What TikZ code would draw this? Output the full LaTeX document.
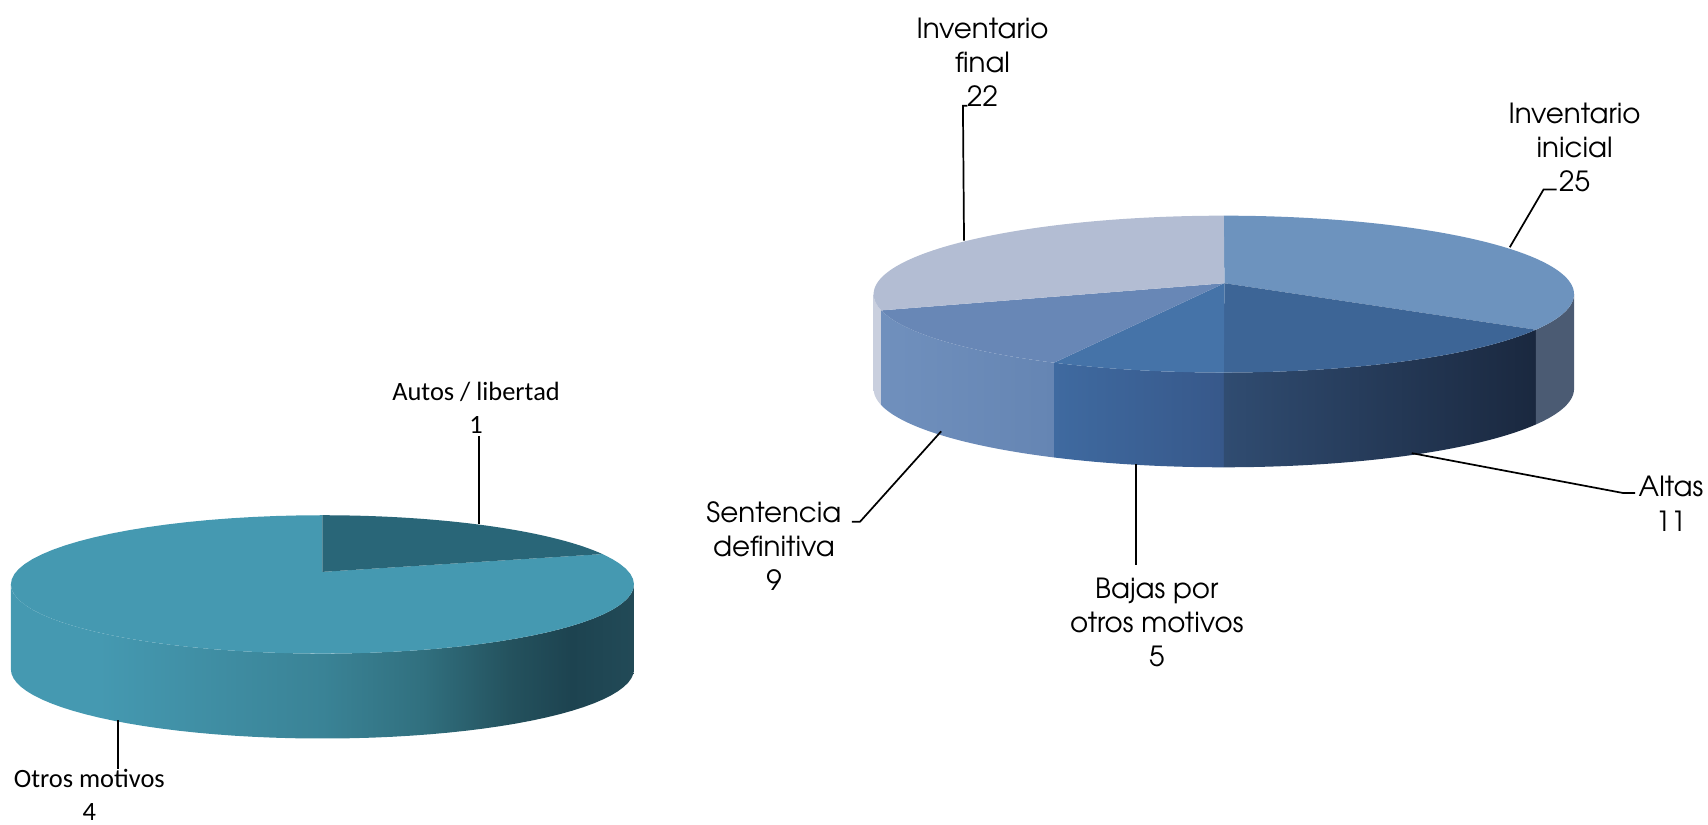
\documentclass[tikz,border=0pt]{standalone}
\usepackage{fontspec}
\newfontfamily\cgfont{TeX Gyre Adventor}
\newfontfamily\calfont{Carlito}
\definecolor{tl1}{HTML}{4599B1}
\definecolor{tl2}{HTML}{3A8396}
\definecolor{tl3}{HTML}{31707F}
\definecolor{tl4}{HTML}{24525E}
\definecolor{tl5}{HTML}{1D4350}
\definecolor{tl6}{HTML}{224A57}
\definecolor{tlwedge}{HTML}{296678}
\definecolor{rIniT}{HTML}{6D93BE}
\definecolor{rAltT}{HTML}{3D6596}
\definecolor{rBajT}{HTML}{4573A8}
\definecolor{rSenT}{HTML}{6887B6}
\definecolor{rFinT}{HTML}{B3BDD3}
\definecolor{rIniS}{HTML}{4B5B73}
\definecolor{rAltSa}{HTML}{304C71}
\definecolor{rAltSb}{HTML}{1A283F}
\definecolor{rBajSa}{HTML}{3F6AA0}
\definecolor{rBajSb}{HTML}{37588A}
\definecolor{rSenSa}{HTML}{7090BD}
\definecolor{rSenSb}{HTML}{6585B3}
\definecolor{rFinS}{HTML}{C9CFDE}
\pgfdeclarehorizontalshading{lside}{100bp}{color(0bp)=(tl1); color(32bp)=(tl1); color(50bp)=(tl2); color(58bp)=(tl3); color(65bp)=(tl4); color(70bp)=(tl5); color(75bp)=(tl6); color(100bp)=(tl6)}
% #1 options, #2 cx, #3 cy, #4 a, #5 b, #6 h, #7 t1, #8 t2
\newcommand\sideseg[8]{%
  \shade[#1] plot[domain=#7:#8,samples=50] ({#2+#4*cos(\x)},{#3+#5*sin(\x)})
    -- plot[domain=#8:#7,samples=50] ({#2+#4*cos(\x)},{#3-#6+#5*sin(\x)}) -- cycle;}
% #1 colour, #2 apex, #3 cx, #4 cy, #5 a, #6 b, #7 t1, #8 t2
\newcommand\topseg[8]{%
  \fill[#1] #2 -- plot[domain=#7:#8,samples=70] ({#3+#5*cos(\x)},{#4+#6*sin(\x)}) -- cycle;}
\begin{document}
\begin{tikzpicture}[x=0.02cm,y=0.02cm,
  rlab/.style={font=\cgfont\fontsize{14.5}{17.8}\selectfont, align=center, inner sep=0pt, anchor=base},
  llab/.style={font=\calfont\fontsize{13.8}{17}\selectfont, align=center, inner sep=0pt, anchor=base},
  leader/.style={draw=black, line width=0.9pt}]
\useasboundingbox (0,0) rectangle (1568,757);
% ---------- left pie ----------
\sideseg{shading=lside}{296}{220.5}{286}{63.5}{78}{180}{360}
\topseg{tl1}{(296,232)}{296}{220.5}{286}{63.5}{90}{386}
\topseg{tlwedge}{(296,232)}{296}{220.5}{286}{63.5}{26}{90}
% ---------- right pie ----------
\sideseg{left color=rFinS,right color=rFinS}{1123.5}{487}{321.5}{72}{87}{180}{192}
\sideseg{left color=rSenSa,right color=rSenSb}{1123.5}{487}{321.5}{72}{87}{192}{241}
\sideseg{left color=rBajSa,right color=rBajSb}{1123.5}{487}{321.5}{72}{87}{241}{270}
\sideseg{left color=rAltSa,right color=rAltSb}{1123.5}{487}{321.5}{72}{87}{270}{333}
\sideseg{left color=rIniS,right color=rIniS}{1123.5}{487}{321.5}{72}{87}{333}{360}
\topseg{rIniT}{(1124,497)}{1123.5}{487}{321.5}{72}{-27}{90}
\topseg{rAltT}{(1124,497)}{1123.5}{487}{321.5}{72}{-90}{-27}
\topseg{rBajT}{(1124,497)}{1123.5}{487}{321.5}{72}{-119}{-90}
\topseg{rSenT}{(1124,497)}{1123.5}{487}{321.5}{72}{-168}{-119}
\topseg{rFinT}{(1124,497)}{1123.5}{487}{321.5}{72}{90}{192}
% ---------- labels ----------
\node[rlab] (lfin) at (902,659) {Inventario\\final\\22};
\node[rlab] (lini) at (1445.5,581) {Inventario\\inicial\\25};
\node[rlab] (lalt) at (1534,269.5) {Altas\\11};
\node[rlab] (lsen) at (710.5,215) {Sentencia\\definitiva\\9};
\node[rlab] (lbaj) at (1062,145) {Bajas por\\otros motivos\\5};
\node[llab] (laut) at (437,359) {Autos / libertad\\1};
\node[llab] (lotr) at (82,4) {Otros motivos\\4};
% ---------- leader points ----------
\coordinate (pfin) at (885,536);  \coordinate (kfin) at (884,660);  \coordinate (tfin) at (888,660);
\coordinate (pini) at (1386,530); \coordinate (kini) at (1417,583); \coordinate (tini) at (1429,583);
\coordinate (palt) at (1296,341); \coordinate (kalt) at (1490,304.4); \coordinate (talt) at (1501,304.4);
\coordinate (pbaj) at (1043,331); \coordinate (tbaj) at (1043,238);
\coordinate (psen) at (864,361);  \coordinate (ksen) at (789.5,278); \coordinate (tsen) at (782,278);
\coordinate (paut) at (440,276);  \coordinate (taut) at (440,357);
\coordinate (potr) at (108,96);   \coordinate (totr) at (108,51);
\draw[leader] (pfin) -- (kfin) -- (tfin);
\draw[leader] (pini) -- (kini) -- (tini);
\draw[leader] (palt) -- (kalt) -- (talt);
\draw[leader] (pbaj) -- (tbaj);
\draw[leader] (psen) -- (ksen) -- (tsen);
\draw[leader] (paut) -- (taut);
\draw[leader] (potr) -- (totr);
\end{tikzpicture}
\end{document}
